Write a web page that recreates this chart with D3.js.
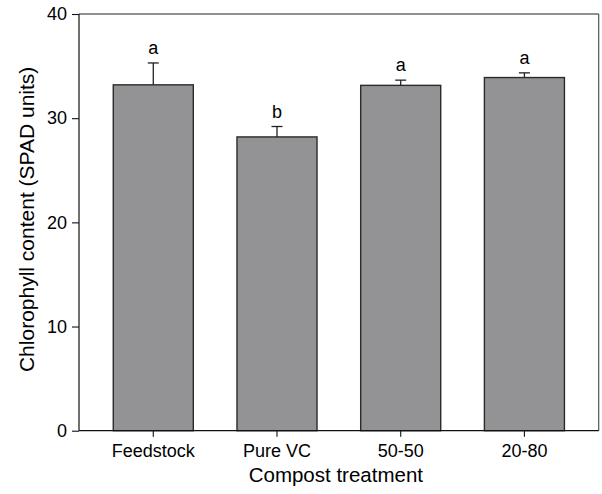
<!DOCTYPE html>
<html>
<head>
<meta charset="utf-8">
<title>Chlorophyll content</title>
<script src="https://cdn.jsdelivr.net/npm/d3@7"></script>
<style>
  body { margin: 0; background: #fff; }
  text { font-family: "Liberation Sans", Arial, sans-serif; fill: #000; }
</style>
</head>
<body>
<div id="chart"></div>

<script type="text/javascript">
	// data
	var treatments = ["Feedstock", "Pure VC", "50-50", "20-80"];
	var means = [33.2, 28.2, 33.15, 33.9];
	var errors = [2.1, 1.0, 0.5, 0.45];
	var letters = ["a", "b", "a", "a"];
	var yTicks = [0, 10, 20, 30, 40];

	var width = 602, height = 494;
	var margin = {top: 14, right: 3.3, bottom: 63.3, left: 79};
	var w = width - margin.left - margin.right;
	var h = height - margin.top - margin.bottom;

	var svg = d3.select("#chart").append("svg")
		.attr("width", width)
		.attr("height", height);

	var g = svg.append("g")
		.attr("transform", "translate(" + margin.left + "," + margin.top + ")");

	var x = d3.scaleBand()
		.domain(treatments)
		.range([0, w])
		.paddingInner(0.353)
		.paddingOuter(0.277);

	var y = d3.scaleLinear()
		.domain([0, 40])
		.range([h, 0]);

	var rows = treatments.map(function(d, i) {
		return {name: d, mean: means[i], err: errors[i], letter: letters[i]};
	});

	// frame (top and right sides)
	g.append("line").attr("x1", 0).attr("x2", w).attr("y1", 0).attr("y2", 0)
		.style("stroke", "#222").style("stroke-width", 1.2);
	g.append("line").attr("x1", w).attr("x2", w).attr("y1", 0).attr("y2", h)
		.style("stroke", "#555").style("stroke-width", 1.2);

	// bars
	g.selectAll("rect.bar").data(rows).enter().append("rect")
		.attr("class", "bar")
		.attr("x", function(d) { return x(d.name); })
		.attr("y", function(d) { return y(d.mean); })
		.attr("width", x.bandwidth())
		.attr("height", function(d) { return h - y(d.mean); })
		.style("fill", "#939396")
		.style("stroke", "#2b2b2b")
		.style("stroke-width", 1.4);

	// error bars (upper only)
	var cap = 5.5;
	var eb = g.selectAll("g.err").data(rows).enter().append("g").attr("class", "err");
	eb.append("line")
		.attr("x1", function(d) { return x(d.name) + x.bandwidth() / 2; })
		.attr("x2", function(d) { return x(d.name) + x.bandwidth() / 2; })
		.attr("y1", function(d) { return y(d.mean); })
		.attr("y2", function(d) { return y(d.mean + d.err); })
		.style("stroke", "#222").style("stroke-width", 1.3);
	eb.append("line")
		.attr("x1", function(d) { return x(d.name) + x.bandwidth() / 2 - cap; })
		.attr("x2", function(d) { return x(d.name) + x.bandwidth() / 2 + cap; })
		.attr("y1", function(d) { return y(d.mean + d.err); })
		.attr("y2", function(d) { return y(d.mean + d.err); })
		.style("stroke", "#222").style("stroke-width", 1.3);

	// significance letters
	g.selectAll("text.letter").data(rows).enter().append("text")
		.attr("class", "letter")
		.attr("x", function(d) { return x(d.name) + x.bandwidth() / 2; })
		.attr("y", function(d) { return y(d.mean + d.err) - 9; })
		.attr("text-anchor", "middle")
		.style("font-size", "18px")
		.text(function(d) { return d.letter; });

	// axes
	var yAxis = g.append("g")
		.call(d3.axisLeft(y).tickValues(yTicks).tickSize(7).tickPadding(5).tickFormat(d3.format("d")));
	var xAxis = g.append("g")
		.attr("transform", "translate(0," + h + ")")
		.call(d3.axisBottom(x).tickSize(6).tickPadding(8));

	[yAxis, xAxis].forEach(function(a) {
		a.select(".domain").attr("d", a === yAxis ? "M0,0V" + h : "M0,0H" + w)
			.style("stroke", "#111").style("stroke-width", 1.2);
		a.selectAll(".tick line").style("stroke", "#111").style("stroke-width", 1.1);
		a.selectAll(".tick text")
			.style("font-family", "'Liberation Sans', Arial, sans-serif")
			.style("font-size", "18px")
			.style("fill", "#000");
	});

	// axis titles
	svg.append("text")
		.attr("x", margin.left + w / 2 - 3)
		.attr("y", 482.3)
		.attr("text-anchor", "middle")
		.style("font-size", "20.5px")
		.text("Compost treatment");

	svg.append("text")
		.attr("transform", "translate(34," + (margin.top + h / 2 - 3) + ") rotate(-90)")
		.attr("text-anchor", "middle")
		.style("font-size", "21px")
		.text("Chlorophyll content (SPAD units)");
</script>
</body>
</html>
